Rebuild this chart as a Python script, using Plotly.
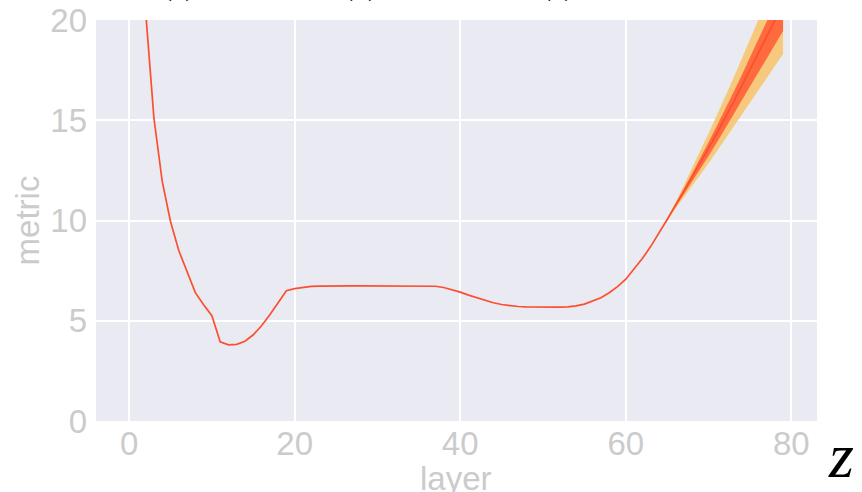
import plotly.graph_objects as go

# per-layer metric (layers 2..79)
layers = list(range(2, 80))
metric = [
    20.4, 15.1, 11.95, 9.95, 8.5, 7.4, 6.4, 5.8, 5.25,            # 2-10
    3.95, 3.8, 3.82, 3.98, 4.3, 4.75, 5.3, 5.9, 6.5, 6.6,         # 11-20
    6.67, 6.71, 6.73, 6.74, 6.74, 6.74, 6.74, 6.74, 6.74, 6.74,   # 21-30
    6.74, 6.74, 6.74, 6.74, 6.73, 6.73, 6.72, 6.66, 6.56, 6.43,   # 31-40
    6.28, 6.14, 6.0, 5.9, 5.81, 5.75, 5.71, 5.69, 5.68, 5.68,     # 41-50
    5.68, 5.68, 5.69, 5.74, 5.83, 5.98, 6.15, 6.4, 6.7, 7.07,     # 51-60
    7.6, 8.1, 8.7, 9.35, 10.05, 10.75, 11.45, 12.15, 12.85, 13.6, # 61-70
    14.35, 15.1, 15.9, 16.7, 17.5, 18.3, 19.1, 19.95, 20.8,       # 71-79
]

# uncertainty bands over the last layers
band_layers = list(range(64, 80))
outer_up = [0.0, 0.05, 0.15, 0.3, 0.45, 0.6, 0.75, 0.9, 1.05, 1.2, 1.35, 1.5, 1.65, 1.8, 1.95, 2.1]
outer_dn = [0.0, 0.05, 0.15, 0.3, 0.45, 0.6, 0.75, 0.9, 1.05, 1.2, 1.4, 1.6, 1.85, 2.05, 2.3, 2.5]
inner_up = [0.0, 0.02, 0.06, 0.12, 0.18, 0.24, 0.3, 0.36, 0.42, 0.48, 0.54, 0.6, 0.66, 0.72, 0.8, 0.88]
inner_dn = [0.0, 0.02, 0.08, 0.15, 0.22, 0.3, 0.38, 0.46, 0.54, 0.62, 0.72, 0.84, 0.96, 1.08, 1.2, 1.35]

x_ticks = [0, 20, 40, 60, 80]
y_ticks = [0, 5, 10, 15, 20]

center = {l: v for l, v in zip(layers, metric)}
band_mid = [center[l] for l in band_layers]

fig = go.Figure()


def add_band(up, dn, color):
    lo = [m - d for m, d in zip(band_mid, dn)]
    hi = [m + u for m, u in zip(band_mid, up)]
    fig.add_trace(go.Scatter(x=band_layers, y=lo, mode="lines",
                             line=dict(width=0, color=color), hoverinfo="skip",
                             showlegend=False))
    fig.add_trace(go.Scatter(x=band_layers, y=hi, mode="lines", fill="tonexty",
                             fillcolor=color, line=dict(width=0, color=color),
                             hoverinfo="skip", showlegend=False))


add_band(outer_up, outer_dn, "#f6c97c")
add_band(inner_up, inner_dn, "#ff6a3e")

fig.add_trace(go.Scatter(x=layers, y=metric, mode="lines",
                         line=dict(color="#fb4f30", width=1.7),
                         showlegend=False))

tick_font = dict(family="Liberation Sans, Arial, sans-serif", size=33, color="#cbcbcb")

fig.update_layout(
    width=862, height=492,
    margin=dict(l=96, r=45, t=20, b=71),
    paper_bgcolor="white",
    plot_bgcolor="#eaeaf2",
    font=tick_font,
    xaxis=dict(range=[-4, 83.1], tickvals=x_ticks, showgrid=True, gridcolor="white",
               gridwidth=1.5, zeroline=False, showline=False, ticks="",
               tickfont=tick_font, automargin=False),
    yaxis=dict(range=[0, 20], tickvals=y_ticks, showgrid=True, gridcolor="white",
               gridwidth=1.5, zeroline=False, showline=False, ticks="",
               tickfont=tick_font, ticklabelstandoff=8, automargin=False,
               title=dict(text="metric", font=tick_font, standoff=0)),
)

# x-axis title, sitting low against the bottom edge
fig.add_annotation(xref="paper", yref="paper", x=(456 - 96) / 721, y=-0.0923,
                   xanchor="center", yanchor="top", text="layer", showarrow=False,
                   font=tick_font)

# panel labels above the axes
for xp, lab in [(0.1151, "(a)"), (0.3675, "(b)"), (0.640, "(c)")]:
    fig.add_annotation(xref="paper", yref="paper", x=xp, y=1.041, xanchor="center",
                       yanchor="bottom", text=lab, showarrow=False,
                       font=dict(family="Liberation Serif, serif", size=30, color="black"))

fig.add_annotation(xref="paper", yref="paper", x=1.012, y=-0.087, xanchor="left",
                   yanchor="middle", text="<i>z</i>", showarrow=False,
                   font=dict(family="Liberation Serif, serif", size=64, color="black"))

fig.write_html("out.html")
